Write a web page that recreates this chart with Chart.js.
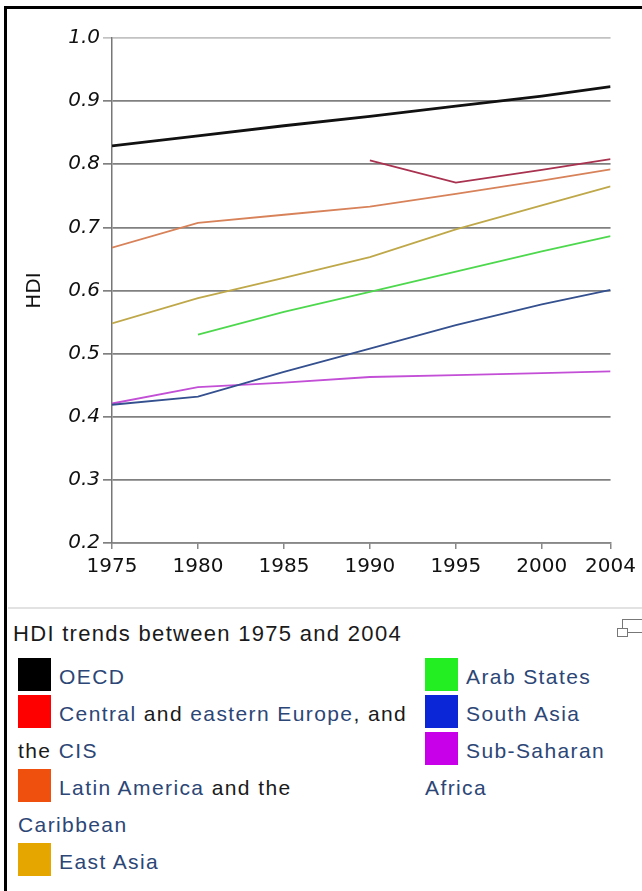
<!DOCTYPE html>
<html>
<head>
<meta charset="utf-8">
<script src="https://cdn.jsdelivr.net/npm/chart.js@4.4.1/dist/chart.umd.min.js"></script>
<style>
  html, body { margin: 0; padding: 0; background: #fff; }
  body { width: 642px; height: 891px; position: relative; overflow: hidden; font-family: "Liberation Sans", Arial, sans-serif; }
  #frame { position: absolute; left: 4px; top: 6px; width: 700px; height: 900px; border-top: 3px solid #000; border-left: 3px solid #000; }
  #chartBox { position: absolute; left: 0; top: 0; width: 642px; height: 600px; }
  #sep { position: absolute; left: 8px; top: 607px; width: 640px; height: 0; border-top: 2px solid #e2e2e2; }
  #caption { position: absolute; left: 13px; top: 623px; font-size: 22px; line-height: 22px; letter-spacing: 1.3px; color: #1a1a1a; white-space: nowrap; }
  .col { position: absolute; top: 658px; }
  .item { font-size: 21px; line-height: 37px; letter-spacing: 1.4px; color: #1a1a1a; white-space: nowrap; }
  .sw { float: left; width: 33px; height: 33px; margin: 0 8px 4px 0; box-sizing: border-box; }
  .item a { color: #2c4676; text-decoration: none; }
  .ico1 { position: absolute; left: 617px; top: 628px; width: 9px; height: 7px; border: 1px solid #777; }
  .ico2 { position: absolute; left: 622px; top: 619px; width: 30px; height: 8px; border: 1px solid #777; border-bottom: none; }
  .ico3 { position: absolute; left: 627px; top: 632px; width: 20px; border-top: 1px solid #777; }
</style>
</head>
<body>
<div id="frame"></div>
<div id="chartBox"><canvas id="hdi"></canvas></div>
<div id="sep"></div>
<div id="caption">HDI trends between 1975 and 2004</div>
<div class="ico2"></div><div class="ico1"></div><div class="ico3"></div>
<div class="col" id="legLeft" style="left:18px"></div>
<div class="col" id="legRight" style="left:425px"></div>
<script>
// years on the x axis and the ticks shown
const years = [1975, 1980, 1985, 1990, 1995, 2000, 2004];
const xTicks = [1975, 1980, 1985, 1990, 1995, 2000, 2004];
const yTicks = [0.2, 0.3, 0.4, 0.5, 0.6, 0.7, 0.8, 0.9, 1.0];

// HDI per region (null = no value)
const oecd        = [0.829, 0.845, 0.861, 0.876, 0.892, 0.908, 0.923];
const ceeCis      = [null,  null,  null,  0.806, 0.771, 0.791, 0.808];
const latinAm     = [0.668, 0.707, 0.720, 0.733, 0.753, 0.774, 0.792];
const eastAsia    = [0.548, 0.588, 0.620, 0.653, 0.697, 0.735, 0.765];
const arabStates  = [null,  0.530, 0.566, 0.598, 0.630, 0.662, 0.686];
const southAsia   = [0.419, 0.432, 0.471, 0.508, 0.545, 0.578, 0.601];
const subSaharan  = [0.421, 0.447, 0.454, 0.463, 0.466, 0.469, 0.472];

const seriesNames = ["OECD", "Central and eastern Europe, and the CIS", "Latin America and the Caribbean",
                     "East Asia", "Arab States", "South Asia", "Sub-Saharan Africa"];
const seriesValues = [oecd, ceeCis, latinAm, eastAsia, arabStates, southAsia, subSaharan];

// styles
const lineColors = ["#111111", "#a8324f", "#d8825a", "#bfa84a", "#4ed84e", "#34508f", "#c24fd6"];
const swatchColors = ["#000000", "#ff0000", "#f0500e", "#e6a600", "#22ee22", "#0a26d6", "#c800ea"];
const lineWidths = [2.8, 1.8, 1.8, 1.8, 1.8, 1.8, 1.8];

// legend text lines, links marked as in the original caption
const legendLines = [
  ["<a>OECD</a>"],
  ["<a>Central</a> and <a>eastern Europe</a>, and", "the <a>CIS</a>"],
  ["<a>Latin America</a> and the", "<a>Caribbean</a>"],
  ["<a>East Asia</a>"],
  ["<a>Arab States</a>"],
  ["<a>South Asia</a>"],
  ["<a>Sub-Saharan</a>", "<a>Africa</a>"]
];

const datasets = seriesValues.map((vals, i) => ({
  label: seriesNames[i],
  data: years.map((x, j) => ({ x: x, y: vals[j] })).filter(p => p.y !== null),
  borderColor: lineColors[i],
  borderWidth: lineWidths[i],
  pointRadius: 0,
  tension: 0,
  fill: false
}));

new Chart(document.getElementById("hdi"), {
  type: "line",
  data: { datasets: datasets },
  options: {
    responsive: true,
    maintainAspectRatio: false,
    animation: false,
    events: [],
    layout: { padding: { left: 23, right: 30, top: 38, bottom: 0 } },
    plugins: { legend: { display: false }, tooltip: { enabled: false } },
    scales: {
      x: {
        type: "linear",
        min: 1975,
        max: 2004,
        afterBuildTicks: s => { s.ticks = xTicks.map(v => ({ value: v })); },
        afterFit: s => { s.height = 57; },
        grid: { drawOnChartArea: false, drawTicks: true, tickLength: 6, color: "#888", lineWidth: 1.5 },
        border: { display: true, color: "#888", width: 1.5 },
        ticks: { color: "#111", padding: 6, maxRotation: 0, autoSkip: false,
                 font: { family: "DejaVu Sans", size: 20 }, callback: v => String(v) }
      },
      y: {
        min: 0.2,
        max: 1.0,
        afterBuildTicks: s => { s.ticks = yTicks.map(v => ({ value: v })); },
        afterFit: s => { s.width = 89; },
        grid: {
          tickLength: 9,
          lineWidth: 1.7,
          color: c => (c.tick && c.tick.value === 1.0 ? "#c2c2c2" : "#808080")
        },
        border: { display: true, color: "#777", width: 1.5 },
        title: { display: true, text: "HDI", color: "#111", padding: { top: 0, bottom: 0 },
                 font: { family: "DejaVu Sans", size: 20 } },
        ticks: { color: "#111", padding: 3,
                 font: { family: "DejaVu Sans", size: 20, style: "italic" },
                 callback: v => Number(v).toFixed(1) }
      }
    }
  }
});

// HTML legend in two columns
function legendItem(i) {
  const div = document.createElement("div");
  div.className = "item";
  div.innerHTML = '<span class="sw" style="background:' + swatchColors[i] + '"></span>' +
    legendLines[i].join("<br>");
  return div;
}
const left = document.getElementById("legLeft");
const right = document.getElementById("legRight");
seriesNames.forEach((n, i) => { (i < 4 ? left : right).appendChild(legendItem(i)); });
</script>
</body>
</html>
